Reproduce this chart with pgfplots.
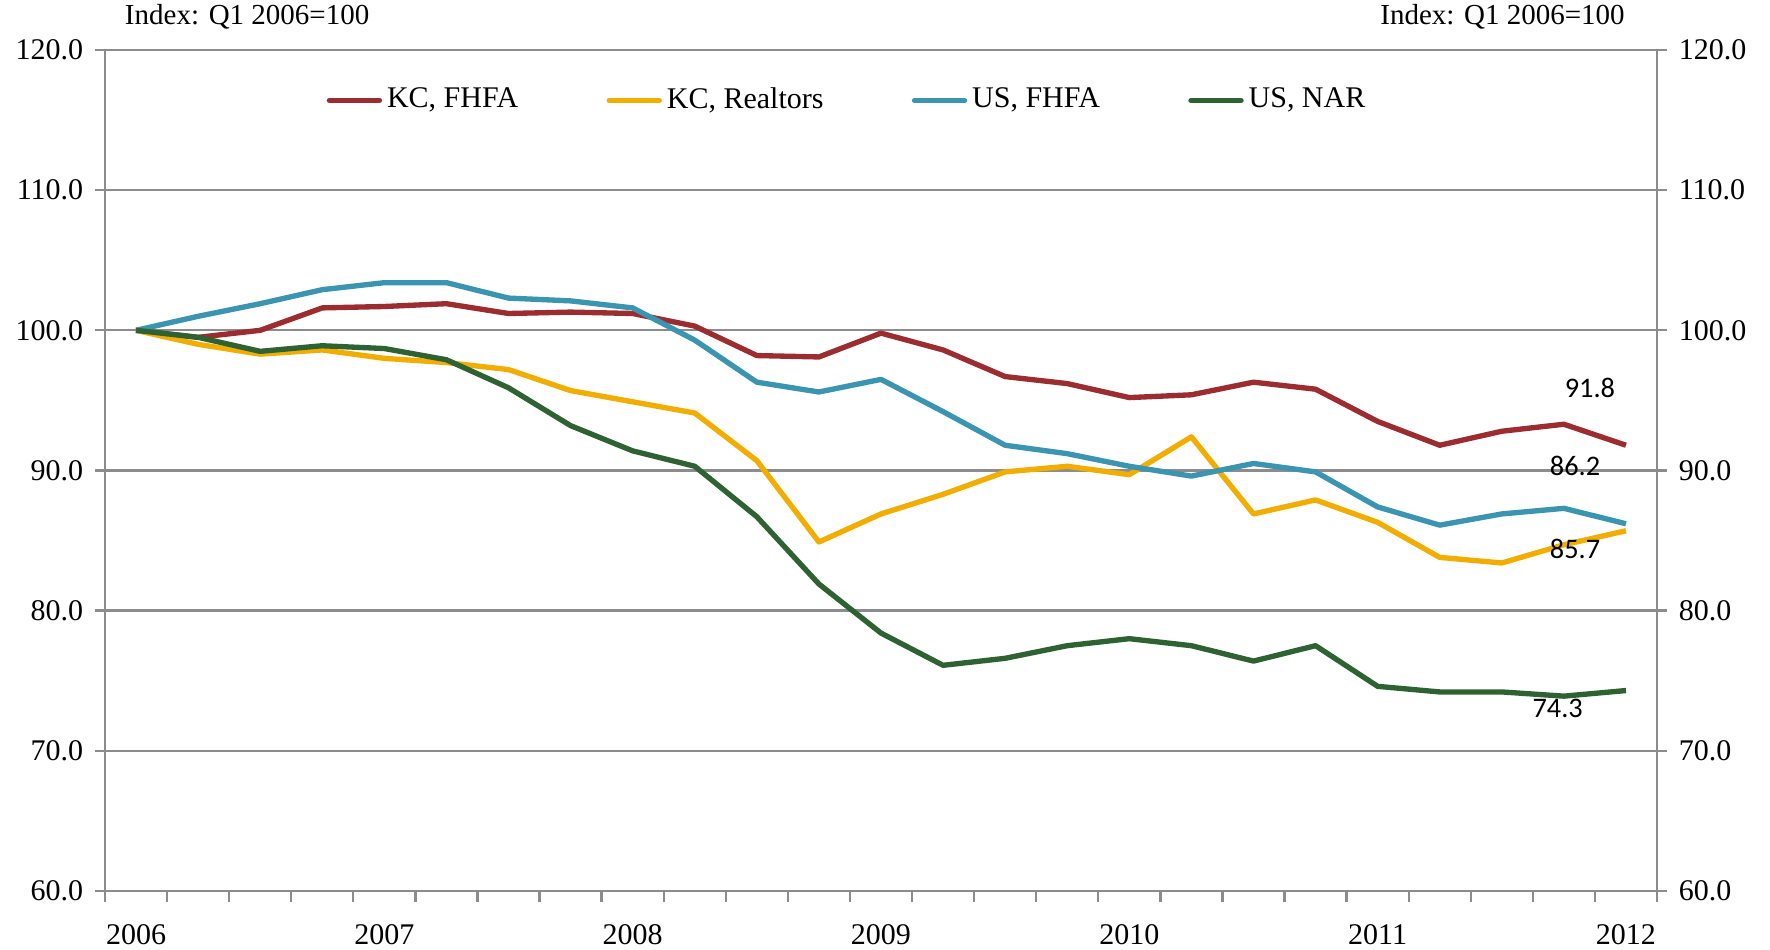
\documentclass[border=0pt]{standalone}
\usepackage{fontspec}
\setmainfont{Liberation Serif}
\newfontfamily\lblfont{Carlito}
\usepackage{pgfplots}
\pgfplotsset{compat=1.18}

\definecolor{kcfhfa}{RGB}{155,45,48}
\definecolor{kcreal}{RGB}{242,174,0}
\definecolor{usfhfa}{RGB}{59,149,176}
\definecolor{usnar}{RGB}{47,98,50}
\definecolor{axgray}{RGB}{140,140,140}

\pgfplotsset{
  common/.style={
    scale only axis,
    width=465.6pt, height=252.3pt,
    xmin=-0.5, xmax=24.5,
    ymin=60, ymax=120,
    ytick={60,70,...,120},
    tick align=outside,
    major tick length=3pt,
    minor tick length=3.4pt,
    axis line style={axgray, line width=0.7pt},
    every tick/.style={axgray, line width=0.7pt},
    tick label style={font=\fontsize{9}{10}\selectfont},
    /pgf/number format/.cd, fixed, fixed zerofill, precision=1, assume math mode=true,
  },
}

\begin{document}
\begin{tikzpicture}
\begin{axis}[
  common,
  name=ax,
  clip=false,
  xtick={0,4,...,24},
  xticklabels={2006,2007,2008,2009,2010,2011,2012},
  major x tick style={draw=none},
  minor xtick={-0.5,0.5,...,24.5},
  xtick pos=bottom, ytick pos=left,
  xticklabel style={yshift=-3.4pt},
  ymajorgrids=true,
  grid style={axgray, line width=0.7pt},
  legend columns=4,
  legend style={
    at={(0.136,0.94)}, anchor=west,
    draw=none, fill=none,
    font=\fontsize{9}{10}\selectfont,
    nodes={inner xsep=1.5pt},
    /tikz/every even column/.append style={column sep=25pt},
  },
  legend image code/.code={\draw[#1, line cap=round] (0pt,0pt) -- (15pt,0pt);},
  every axis plot/.append style={line width=1.6pt, line join=round},
]
\addplot[kcfhfa] coordinates {
 (0,100.0) (1,99.5) (2,100.0) (3,101.6) (4,101.7) (5,101.9) (6,101.2) (7,101.3)
 (8,101.2) (9,100.3) (10,98.2) (11,98.1) (12,99.8) (13,98.6) (14,96.7) (15,96.2)
 (16,95.2) (17,95.4) (18,96.3) (19,95.8) (20,93.5) (21,91.8) (22,92.8) (23,93.3) (24,91.8)
};
\addplot[kcreal] coordinates {
 (0,100.0) (1,99.0) (2,98.3) (3,98.6) (4,98.0) (5,97.7) (6,97.2) (7,95.7)
 (8,94.9) (9,94.1) (10,90.7) (11,84.9) (12,86.9) (13,88.3) (14,89.9) (15,90.3)
 (16,89.7) (17,92.4) (18,86.9) (19,87.9) (20,86.3) (21,83.8) (22,83.4) (23,84.7) (24,85.7)
};
\addplot[usfhfa] coordinates {
 (0,100.0) (1,101.0) (2,101.9) (3,102.9) (4,103.4) (5,103.4) (6,102.3) (7,102.1)
 (8,101.6) (9,99.3) (10,96.3) (11,95.6) (12,96.5) (13,94.2) (14,91.8) (15,91.2)
 (16,90.3) (17,89.6) (18,90.5) (19,89.9) (20,87.4) (21,86.1) (22,86.9) (23,87.3) (24,86.2)
};
\addplot[usnar] coordinates {
 (0,100.0) (1,99.5) (2,98.5) (3,98.9) (4,98.7) (5,97.9) (6,95.9) (7,93.2)
 (8,91.4) (9,90.3) (10,86.7) (11,81.9) (12,78.4) (13,76.1) (14,76.6) (15,77.5)
 (16,78.0) (17,77.5) (18,76.4) (19,77.5) (20,74.6) (21,74.2) (22,74.2) (23,73.9) (24,74.3)
};
\legend{KC{,} FHFA, KC{,} Realtors, US{,} FHFA, US{,} NAR}

% end-point labels
\node[font=\lblfont\fontsize{8.5}{10}\selectfont] at (axis cs:23.42,95.9) {91.8};
\node[font=\lblfont\fontsize{8.5}{10}\selectfont] at (axis cs:23.18,90.3) {86.2};
\node[font=\lblfont\fontsize{8.5}{10}\selectfont] at (axis cs:23.18,84.4) {85.7};
\node[font=\lblfont\fontsize{8.5}{10}\selectfont] at (axis cs:22.90,73.0) {74.3};
\end{axis}

\begin{axis}[
  common,
  axis y line*=right,
  axis x line=none,
  xtick=\empty,
]
\end{axis}

\node[anchor=base west, font=\fontsize{8.7}{10}\selectfont, inner sep=0pt]
  at ([xshift=5.8pt,yshift=7.5pt]ax.north west) {Index: Q1 2006=100};
\node[anchor=base east, font=\fontsize{8.7}{10}\selectfont, inner sep=0pt]
  at ([xshift=-9.5pt,yshift=7.5pt]ax.north east) {Index: Q1 2006=100};

\pgfresetboundingbox
\path ([xshift=-31.5pt,yshift=-17.7pt]ax.south west) rectangle ([xshift=33.9pt,yshift=15pt]ax.north east);
\end{tikzpicture}
\end{document}
